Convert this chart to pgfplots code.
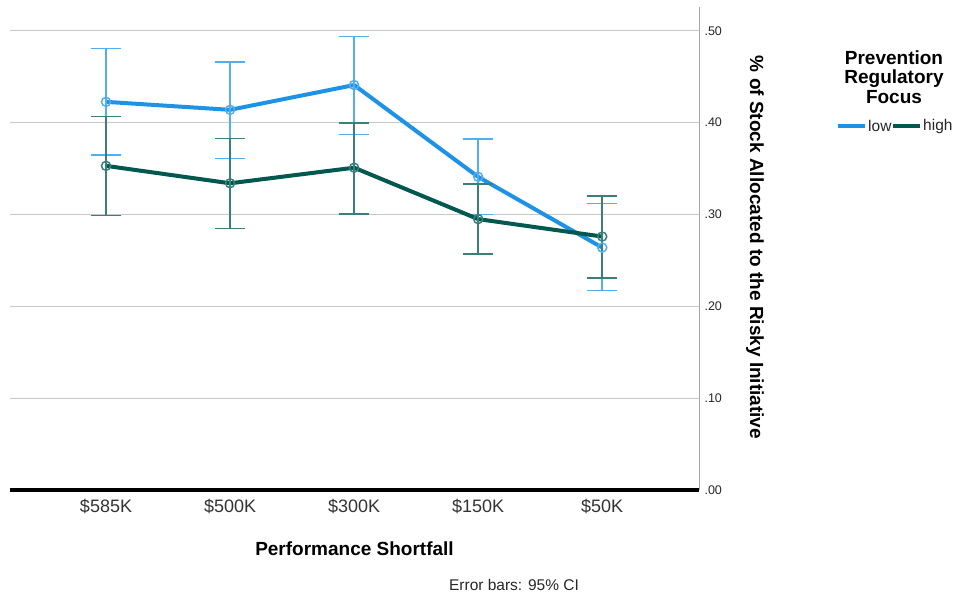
\documentclass[border=0pt]{standalone}
\usepackage{pgfplots}
\pgfplotsset{compat=1.18}
\usepackage{pgfplotstable}
\usepackage{fontspec}
\setmainfont{Liberation Sans}
\definecolor{lowc}{HTML}{1E93E6}
\definecolor{lowe}{HTML}{52AEEE}
\definecolor{highc}{HTML}{00584F}
\definecolor{highe}{HTML}{3A7F7C}
\definecolor{gridc}{HTML}{C8C8C8}

\pgfplotstableread{
x y ep em
0 0.4227 0.0583 0.0581
1 0.414 0.052 0.053
2 0.441 0.053 0.054
3 0.341 0.041 0.041
4 0.264 0.048 0.047
}\lowdata
\pgfplotstableread{
x y ep em
0 0.353 0.054 0.054
1 0.334 0.049 0.049
2 0.351 0.0485 0.0503
3 0.295 0.038 0.038
4 0.276 0.044 0.0454
}\highdata

\begin{document}
\begin{tikzpicture}[x=1pt,y=1pt]
\useasboundingbox (0,0) rectangle (954,597);
\begin{axis}[
  at={(10pt,107pt)}, anchor=south west,
  scale only axis, width=689pt, height=483pt,
  xmin=-0.774, xmax=4.78, ymin=0, ymax=0.526,
  axis x line*=bottom, axis y line*=right,
  x axis line style={black, line width=4pt, -},
  y axis line style={gray!70, line width=1pt, -},
  xtick={0,1,2,3,4},
  xticklabels={\$585K,\$500K,\$300K,\$150K,\$50K},
  ytick={0,0.1,0.2,0.3,0.4,0.5},
  yticklabels={.00,.10,.20,.30,.40,.50},
  ymajorgrids, grid style={gridc, line width=1.2pt},
  major tick length=0pt,
  x tick label style={font=\fontsize{18}{20}\selectfont, text=black!80, yshift=-6pt},
  y tick label style={font=\fontsize{12.5}{14}\selectfont, text=black!85, xshift=2pt},
  clip=false,
]
\addplot[lowc, line width=4pt, mark=o, mark size=4.5pt,
  mark options={lowe, line width=1.5pt, solid},
  error bars/.cd, y dir=both, y explicit, error mark=-,
  error mark options={rotate=90, mark size=15pt, line width=1.5pt, lowe},
  error bar style={lowe, line width=1.5pt}]
  table[x=x, y=y, y error plus=ep, y error minus=em]{\lowdata};
\addplot[highc, line width=4pt, mark=o, mark size=4.5pt,
  mark options={highe, line width=1.5pt, solid},
  error bars/.cd, y dir=both, y explicit, error mark=-,
  error mark options={rotate=90, mark size=15pt, line width=1.5pt, highe},
  error bar style={highe, line width=1.5pt}]
  table[x=x, y=y, y error plus=ep, y error minus=em]{\highdata};
\end{axis}
% axis titles
\node[rotate=-90, inner sep=0, font=\bfseries\fontsize{19}{21}\selectfont] at (755,349.5) {\% of Stock Allocated to the Risky Initiative};
\node[inner sep=0, font=\bfseries\fontsize{19}{21}\selectfont] at (354.5,48) {Performance Shortfall};
\node[inner sep=0, font=\fontsize{15.5}{17}\selectfont, text=black!85] at (514,12) {Error bars: 95\% CI};
% legend
\node[inner sep=0, align=center, font=\bfseries\fontsize{19}{19.5}\selectfont] at (894,520) {Prevention\\Regulatory\\Focus};
\draw[lowc, line width=4pt] (838,471) -- (865,471);
\node[anchor=west, inner sep=0, font=\fontsize{15.5}{17}\selectfont, text=black!85] at (868,471) {low};
\draw[highc, line width=4pt] (893,471) -- (920,471);
\node[anchor=west, inner sep=0, font=\fontsize{15.5}{17}\selectfont, text=black!85] at (923,471) {high};
\end{tikzpicture}
\end{document}
